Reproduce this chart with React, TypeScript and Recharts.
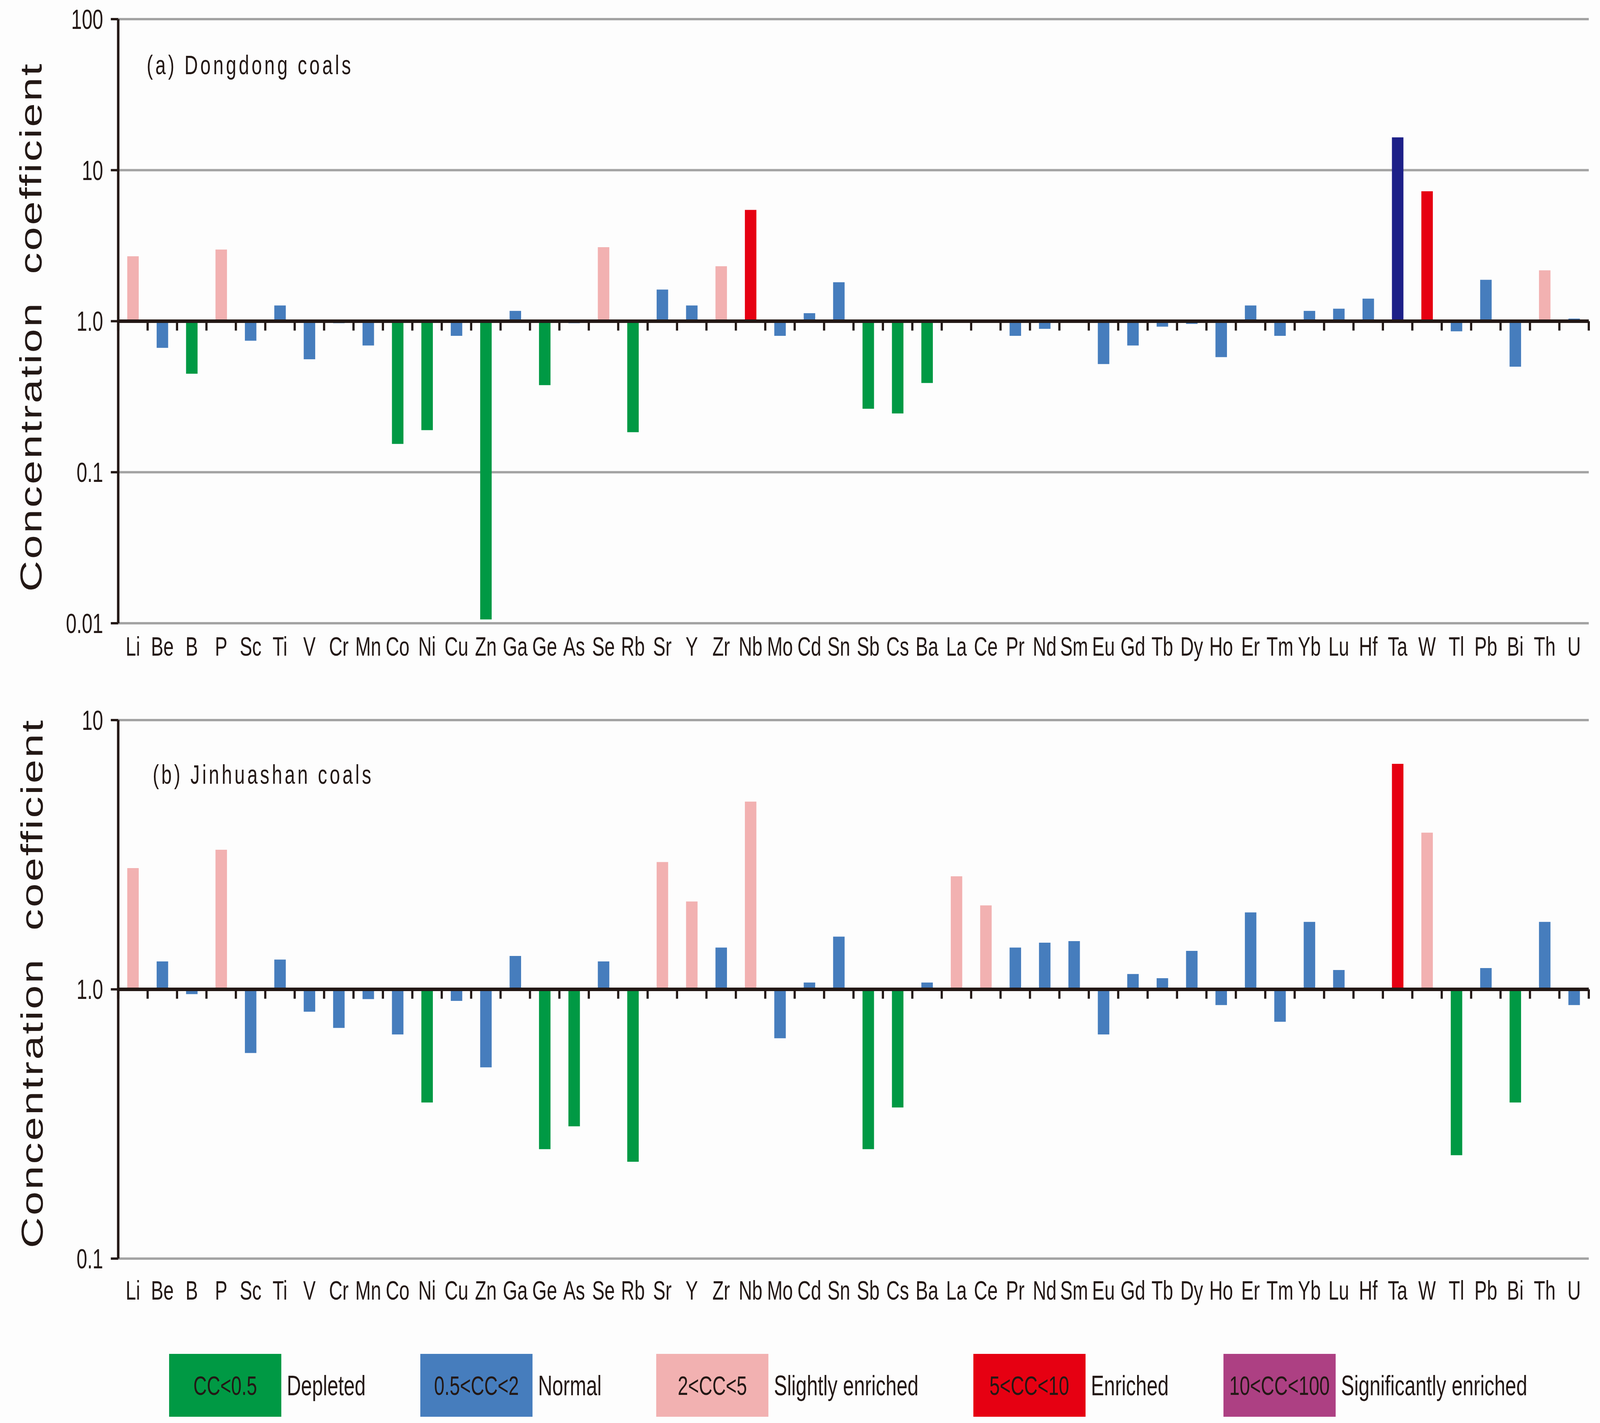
import React from "react";
import { BarChart, Bar, XAxis, YAxis, CartesianGrid, ReferenceLine, Cell } from "recharts";

const elements = [
  "Li", "Be", "B", "P", "Sc", "Ti", "V", "Cr", "Mn", "Co",
  "Ni", "Cu", "Zn", "Ga", "Ge", "As", "Se", "Rb", "Sr", "Y",
  "Zr", "Nb", "Mo", "Cd", "Sn", "Sb", "Cs", "Ba", "La", "Ce",
  "Pr", "Nd", "Sm", "Eu", "Gd", "Tb", "Dy", "Ho", "Er", "Tm",
  "Yb", "Lu", "Hf", "Ta", "W", "Tl", "Pb", "Bi", "Th", "U",
];

// concentration coefficients, Dongdong coals
const dongdongCC = [
  2.69, 0.666, 0.449, 2.98, 0.743, 1.27, 0.56, 0.97, 0.69, 0.154,
  0.19, 0.8, 0.0106, 1.17, 0.377, 0.97, 3.09, 0.184, 1.62, 1.27,
  2.31, 5.46, 0.8, 1.13, 1.81, 0.263, 0.245, 0.39, 1.0, 1.0,
  0.8, 0.89, 1.0, 0.52, 0.69, 0.92, 0.96, 0.578, 1.27, 0.8,
  1.17, 1.21, 1.41, 16.5, 7.25, 0.857, 1.88, 0.5, 2.17, 1.04,
];

// concentration coefficients, Jinhuashan coals
const jinhuashanCC = [
  2.82, 1.27, 0.96, 3.3, 0.58, 1.29, 0.826, 0.719, 0.92, 0.68,
  0.38, 0.906, 0.513, 1.33, 0.255, 0.31, 1.27, 0.229, 2.97, 2.12,
  1.43, 4.98, 0.658, 1.06, 1.57, 0.255, 0.364, 1.06, 2.63, 2.05,
  1.43, 1.49, 1.51, 0.68, 1.14, 1.1, 1.39, 0.874, 1.93, 0.758,
  1.78, 1.18, 1.01, 6.88, 3.82, 0.242, 1.2, 0.38, 1.78, 0.874,
];

const ticksA = [0.01, 0.1, 1, 10, 100];
const ticksB = [0.1, 1, 10];

const legendRanges = ["CC<0.5", "0.5<CC<2", "2<CC<5", "5<CC<10", "10<CC<100"];
const legendNames = ["Depleted", "Normal", "Slightly enriched", "Enriched", "Significantly enriched"];

const W = 5847;
const H = 3644;
const FONT = '"Liberation Sans", Arial, sans-serif';
const INK = "#231815";
const GREEN = "#009944";
const BLUE = "#467dbd";
const PINK = "#f2b1b1";
const RED = "#e60012";
const NAVY = "#1d2088";
const PURPLE = "#ad4083";
const GRID = "#a3a3a3";

const legendColors = [GREEN, BLUE, PINK, RED, PURPLE];

const colorFor = (v: number) =>
  v < 0.5 ? GREEN : v < 2 ? BLUE : v < 5 ? PINK : v < 10 ? RED : NAVY;

const fmt = (v: number) => (v === 1 ? "1.0" : String(v));

// thick baseline at CC = 1 with small downward ticks between elements
function BaseLine(props: any) {
  const { x1, y1, x2, y2 } = props;
  const n = elements.length;
  return (
    <g>
      <line x1={x1} y1={y1} x2={x2} y2={y2} stroke={INK} strokeWidth={9} />
      {Array.from({ length: n + 1 }, (_, i) => {
        const x = x1 + ((x2 - x1) * i) / n;
        return <line key={i} x1={x} x2={x} y1={y1} y2={y1 + 24} stroke={INK} strokeWidth={8} />;
      })}
    </g>
  );
}

function Panel(props: any) {
  const { values, domain, ticks, height, margin, tickMargin } = props;
  const data = elements.map((el, i) => ({ el, cc: values[i] }));
  return (
    <BarChart width={W} height={height} data={data} margin={margin} barSize={42}>
      <CartesianGrid vertical={false} stroke={GRID} strokeWidth={6} />
      <XAxis
        dataKey="el"
        interval={0}
        axisLine={false}
        tickLine={false}
        tickSize={0}
        tickMargin={tickMargin}
        height={100}
        tick={{ fontSize: 68, fill: INK, fontFamily: FONT }}
      />
      <YAxis
        type="number"
        scale="log"
        domain={domain}
        ticks={ticks}
        allowDataOverflow
        width={300}
        tickSize={27}
        tickMargin={28}
        tickFormatter={fmt}
        axisLine={{ stroke: INK, strokeWidth: 9 }}
        tickLine={{ stroke: INK, strokeWidth: 6 }}
        tick={{ fontSize: 70, fill: INK, fontFamily: FONT }}
      />
      <Bar dataKey={(d: any) => [1, d.cc]} isAnimationActive={false}>
        {data.map((d, i) => (
          <Cell key={i} fill={colorFor(d.cc)} />
        ))}
      </Bar>
      <ReferenceLine y={1} shape={BaseLine} />
    </BarChart>
  );
}

const abs = (left: number, top: number): React.CSSProperties => ({ position: "absolute", left, top });

function YLabel({ cx, cy }: { cx: number; cy: number }) {
  return (
    <div
      style={{
        ...abs(cx, cy),
        transform: "translate(-50%, -50%) rotate(-90deg)",
        fontFamily: FONT,
        fontSize: 110,
        letterSpacing: 4.5,
        lineHeight: 1,
        whiteSpace: "pre",
        color: INK,
      }}
    >
      {"Concentration  coefficient"}
    </div>
  );
}

function Title({ left, top, text }: { left: number; top: number; text: string }) {
  return (
    <div style={{ ...abs(left, top), fontFamily: FONT, fontSize: 68, letterSpacing: 9, lineHeight: "68px", whiteSpace: "pre", color: INK }}>
      {text}
    </div>
  );
}

export default function App() {
  // fit the 5847x3644 figure into whatever viewport the page actually gets
  const vw = typeof window !== "undefined" && window.innerWidth ? window.innerWidth : W;
  const vh = typeof window !== "undefined" && window.innerHeight ? window.innerHeight : H;
  const sx = Math.min(1, vw / W);
  const sy = Math.min(1, vh / H);
  return (
    <div style={{ position: "absolute", left: 0, top: 0, width: W * sx, height: H * sy, overflow: "hidden", background: "#fdfdfd" }}>
      <div
        style={{
          position: "absolute",
          left: 0,
          top: 0,
          width: W,
          height: H,
          transform: `scale(${sx}, ${sy})`,
          transformOrigin: "0 0",
        }}
      >
        <div style={abs(0, 0)}>
          <Panel
            values={dongdongCC}
            domain={[0.01, 100]}
            ticks={ticksA}
            height={1720}
            margin={{ top: 49, right: 41, bottom: 24, left: 132 }}
            tickMargin={35}
          />
        </div>
        <div style={abs(0, 1720)}>
          <Panel
            values={jinhuashanCC}
            domain={[0.1, 10]}
            ticks={ticksB}
            height={1720}
            margin={{ top: 124, right: 41, bottom: 117, left: 132 }}
            tickMargin={57}
          />
        </div>
        <Title left={536} top={132} text="(a) Dongdong coals" />
        <Title left={558} top={1949} text="(b) Jinhuashan coals" />
        <YLabel cx={114} cy={837} />
        <YLabel cx={117} cy={2518} />
        <div style={{ ...abs(618, 3467), display: "flex", alignItems: "center", fontFamily: FONT, color: INK }}>
          {legendRanges.map((r, i) => (
            <div key={r} style={{ display: "flex", alignItems: "center", marginLeft: i === 0 ? 0 : 200 }}>
              <div
                style={{
                  width: 410,
                  height: 161,
                  background: legendColors[i],
                  display: "flex",
                  alignItems: "center",
                  justifyContent: "center",
                  fontSize: 68,
                  whiteSpace: "nowrap",
                }}
              >
                {r}
              </div>
              <div style={{ marginLeft: 20, fontSize: 72, whiteSpace: "nowrap" }}>{legendNames[i]}</div>
            </div>
          ))}
        </div>
      </div>
    </div>
  );
}
